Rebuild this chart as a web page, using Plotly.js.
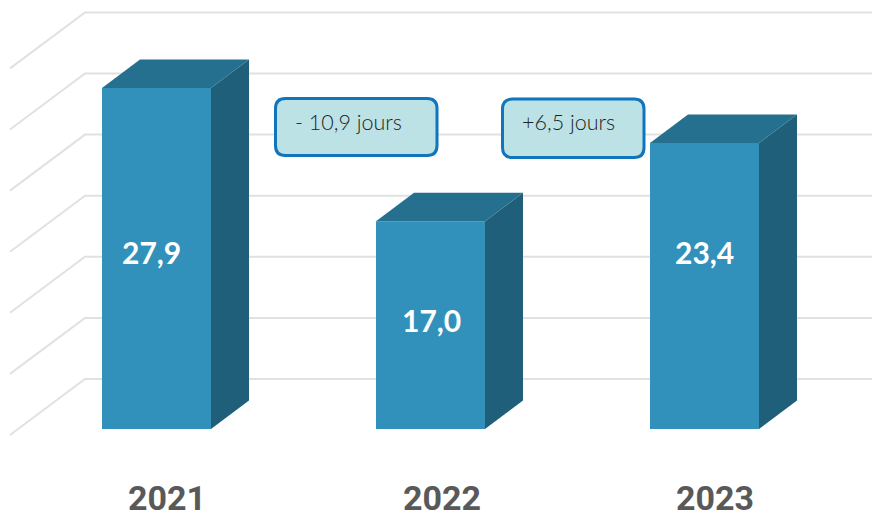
<!DOCTYPE html>
<html>
<head>
<meta charset="utf-8">
<script src="https://cdn.plot.ly/plotly-3.0.1.min.js"></script>
<style>html,body{margin:0;padding:0;background:#fff}#c{width:872px;height:531px}</style>
</head>
<body>
<div id="c"></div>
<script>
const years = ['2021', '2022', '2023'];
const jours = [27.9, 17.0, 23.4];
const gridValues = [0, 5, 10, 15, 20, 25, 30];
const callouts = ['- 10,9 jours', '+6,5 jours'];

// pixel <-> axis conversion of the page layout
const W = 872, H = 531, B = 56;
const pxPerCat = 274, pxPerVal = 12.22, x0Px = 157, y0Px = 429;
const X = p => (p - x0Px) / pxPerCat;
const Y = p => (y0Px - p) / pxPerVal;

const barW = 109 / pxPerCat;
const depthX = 38 / pxPerCat, depthY = 28.5 / pxPerVal;
const cats = years.map((_, i) => i);

const traces = [];

// side and top faces
cats.forEach((c, i) => {
  const l = c - 0.5 / pxPerCat - barW / 2, r = l + barW, v = jours[i];
  traces.push({type: 'scatter', mode: 'lines', fill: 'toself', fillcolor: '#1F5F79',
    x: [r, r + depthX, r + depthX, r, r], y: [0, depthY, v + depthY, v, 0],
    line: {width: 0, color: '#1F5F79'}, hoverinfo: 'skip', showlegend: false});
  traces.push({type: 'scatter', mode: 'lines', fill: 'toself', fillcolor: '#26708F',
    x: [l, l + depthX, r + depthX, r, l], y: [v, v + depthY, v + depthY, v, v],
    line: {width: 0, color: '#26708F'}, hoverinfo: 'skip', showlegend: false});
});

// front faces
traces.push({type: 'bar', x: cats.map(c => c - 0.5 / pxPerCat), y: jours, width: barW,
  marker: {color: '#3291BB', line: {width: 0}}, hoverinfo: 'skip', showlegend: false});

function roundRect(x1, y1, x2, y2, r) {
  const a = X, b = Y;
  return `M${a(x1 + r)},${b(y1)} L${a(x2 - r)},${b(y1)} Q${a(x2)},${b(y1)} ${a(x2)},${b(y1 + r)} ` +
    `L${a(x2)},${b(y2 - r)} Q${a(x2)},${b(y2)} ${a(x2 - r)},${b(y2)} L${a(x1 + r)},${b(y2)} ` +
    `Q${a(x1)},${b(y2)} ${a(x1)},${b(y2 - r)} L${a(x1)},${b(y1 + r)} Q${a(x1)},${b(y1)} ${a(x1 + r)},${b(y1)} Z`;
}

// back wall grid, below the bars, with the perspective return on the left
const gridShapes = gridValues.map(v => ({
  type: 'path', xref: 'x', yref: 'y', layer: 'below',
  path: `M${X(10)},${v + Y(435)} L${X(85)},${v + Y(379)} L${X(872)},${v + Y(379)}`,
  line: {color: '#E1E1E1', width: 2}
}));

const boxes = [[275.5, 98.5, 437, 155.5], [502.5, 99, 644, 157.5]];
const boxShapes = boxes.map(p => ({
  type: 'path', xref: 'x', yref: 'y', layer: 'above',
  path: roundRect(p[0], p[1], p[2], p[3], 10),
  fillcolor: '#BCE2E6', line: {color: '#0F75BD', width: 3}
}));

const labelPx = [[151.5, 252], [431, 320], [704, 252]];
const annotations = jours.map((v, i) => ({
  x: X(labelPx[i][0]), y: Y(labelPx[i][1]), xref: 'x', yref: 'y', showarrow: false,
  text: v.toFixed(1).replace('.', ','),
  font: {family: 'Lato, sans-serif', size: 30, color: '#FFFFFF', weight: 700}
}));
const calloutPx = [[292.5, 122], [519.5, 122]];
callouts.forEach((t, i) => annotations.push({
  x: X(calloutPx[i][0]), y: Y(calloutPx[i][1]), xref: 'x', yref: 'y', showarrow: false,
  xanchor: 'left', text: t,
  font: {family: 'Lato, sans-serif', size: 21.5, color: '#1F1F1F', weight: 300}
}));

const tickPx = [167, 442, 715];

Plotly.newPlot('c', traces, {
  width: W, height: H,
  margin: {l: 0, r: 0, t: 0, b: B},
  paper_bgcolor: '#FFFFFF', plot_bgcolor: 'rgba(0,0,0,0)',
  showlegend: false,
  xaxis: {range: [X(0), X(W)], tickmode: 'array', tickvals: tickPx.map(X), ticktext: years,
    showgrid: false, zeroline: false, showline: false, ticks: '',
    tickfont: {family: 'Roboto, sans-serif', size: 34, color: '#595959', weight: 700}},
  yaxis: {range: [Y(H - B), Y(0)], showgrid: false, zeroline: false, showline: false,
    showticklabels: false, ticks: ''},
  shapes: gridShapes.concat(boxShapes), annotations
}, {displayModeBar: false, staticPlot: true});
</script>
</body>
</html>
